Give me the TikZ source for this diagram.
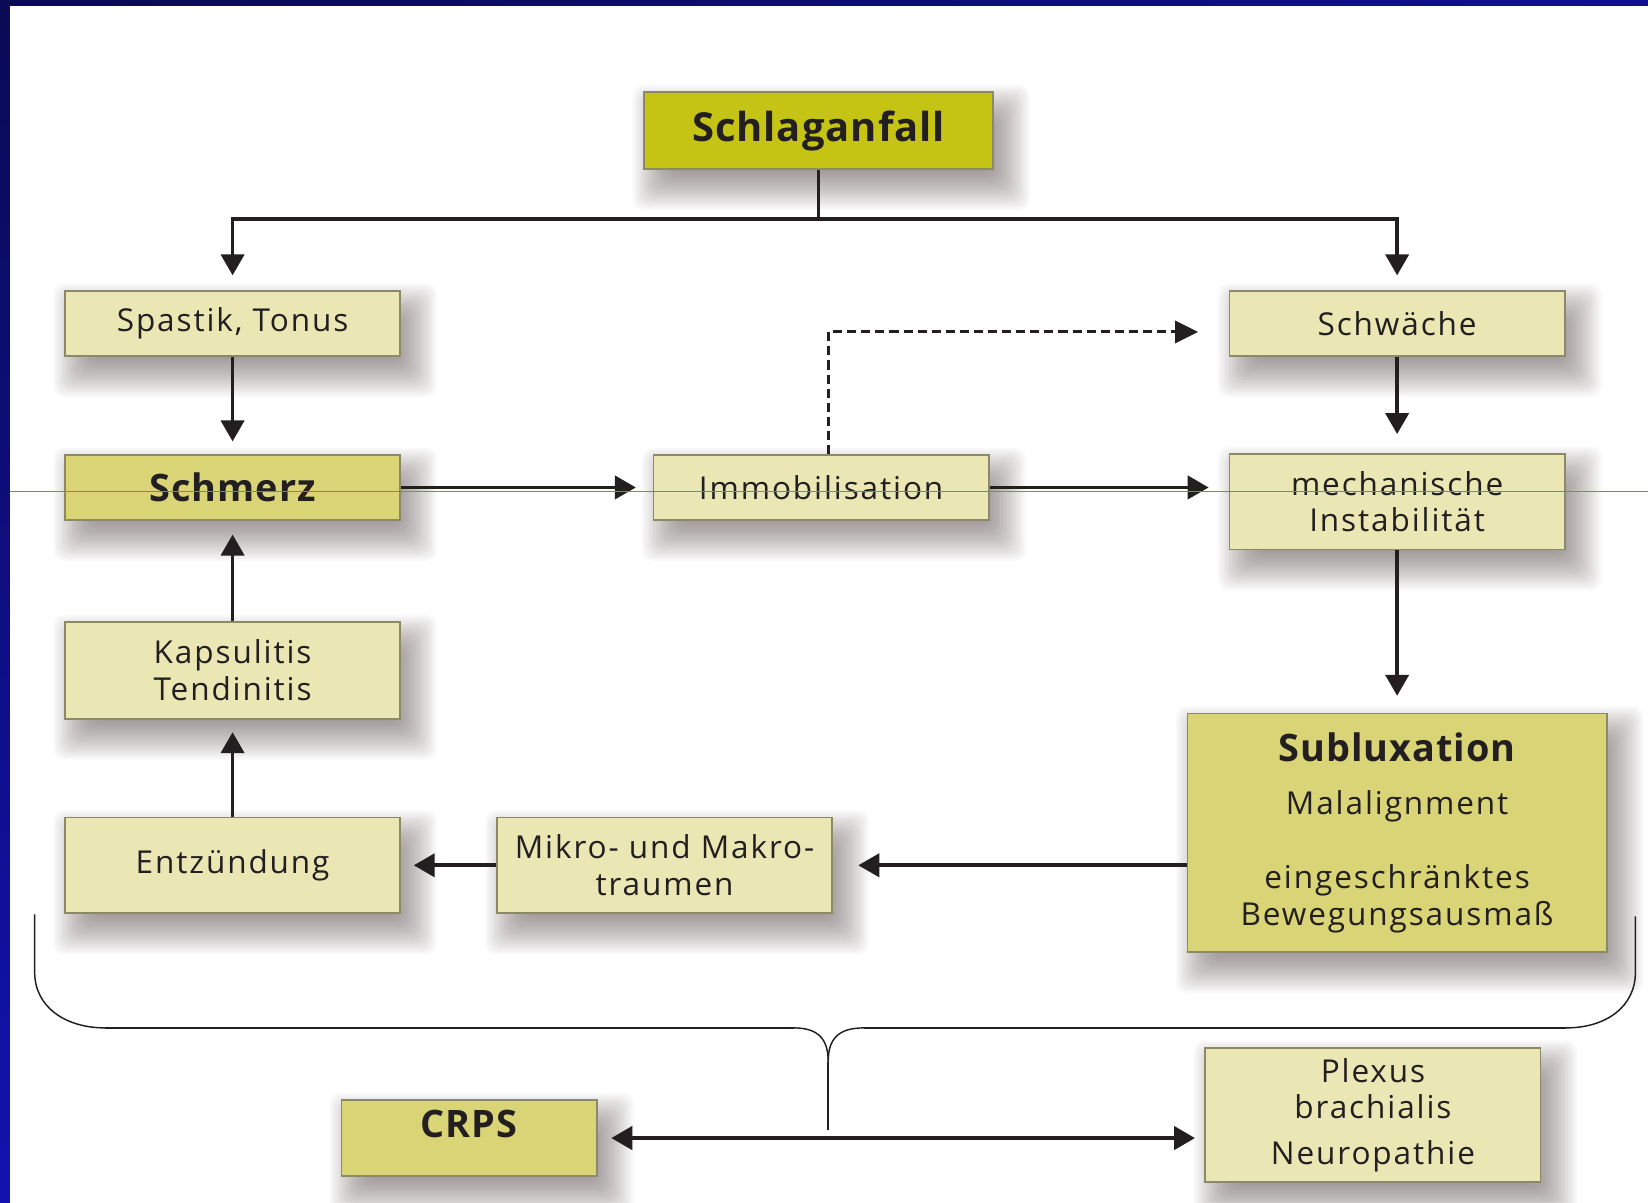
\documentclass[tikz,border=0pt]{standalone}
\usepackage{fontspec}
\setmainfont{Open Sans}[LetterSpace=6]
\usetikzlibrary{arrows.meta,calc}
\definecolor{dark}{HTML}{231F20}
\definecolor{olivefill}{HTML}{C5C313}
\definecolor{medfill}{HTML}{D9D475}
\definecolor{lightfill}{HTML}{EAE7B5}
\definecolor{edgecol}{HTML}{8C8A66}
\definecolor{navyA}{HTML}{0A0A55}
\definecolor{navyB}{HTML}{1212B0}
\definecolor{guide}{HTML}{7878D0}
\definecolor{shadowcol}{HTML}{3A2A2A}
\newfontfamily\boldfam{Open Sans}[LetterSpace=2.5]
\newcommand{\hdrfont}{\boldfam\fontsize{18}{22}\selectfont\bfseries}
\pgfdeclarelayer{bglayer}
\pgfdeclarelayer{shadowlayer}
\pgfsetlayers{bglayer,shadowlayer,main}
\begin{document}
\begin{tikzpicture}[x=0.5pt,y=-0.5pt,
  box/.style={draw=edgecol, line width=0.8pt, anchor=north west, inner sep=0pt,
    align=center, text=dark, font=\fontsize{15}{17.5}\selectfont,
    minimum width=159.5pt},
  lightbox/.style={box, fill=lightfill},
  medbox/.style={box, fill=medfill},
  shadowlayerstyle/.style={fill=shadowcol, opacity=0.03, rounded corners=5pt},
  conn/.style={draw=dark, line width=1.8pt, -{Triangle[length=10pt,width=11pt]}},
  dashconn/.style={draw=dark, line width=1.4pt, dash pattern=on 4.3pt off 2.4pt, -{Triangle[length=11pt,width=10.5pt]}},
  dblconn/.style={draw=dark, line width=2pt, {Triangle[length=10pt,width=11pt]}-{Triangle[length=10pt,width=11pt]}},
  plain/.style={draw=dark, line width=1.8pt},
  bracethin/.style={draw=dark, line width=0.7pt},
  bracethick/.style={draw=dark, line width=1.3pt}
]
\useasboundingbox (0,0) rectangle (1568,1144);
\begin{pgfonlayer}{bglayer}
\fill[white] (0,0) rectangle (1568,1144);
\shade[top color=navyA, bottom color=navyB] (0,0) rectangle (9.5,1144);
\shade[left color=navyA, right color=navyB!85!black] (0,0) rectangle (1568,5);
\end{pgfonlayer}

% boxes
\node[box, fill=olivefill, minimum width=166pt, minimum height=36.5pt] (schlag) at (612,87)
  {\boldfam\fontsize{19}{22}\selectfont\bfseries Schlaganfall};
\node[lightbox, minimum height=31pt] (spastik) at (61,276) {Spastik, Tonus};
\node[lightbox, minimum height=31pt] (schwaeche) at (1169,276) {Schwäche};
\node[medbox, minimum height=31pt] (schmerz) at (61,432) {\hdrfont Schmerz};
\node[lightbox, minimum height=31pt] (immob) at (621,432) {Immobilisation};
\node[lightbox, minimum height=45.5pt] (mech) at (1169,431) {mechanische\\Instabilität};
\node[lightbox, minimum height=46pt] (kaps) at (61,591) {Kapsulitis\\Tendinitis};
\node[medbox, minimum width=199.5pt, minimum height=113.5pt] (sublux) at (1129,678)
  {{\hdrfont Subluxation}\\[8pt]Malalignment\\[17.5pt]eingeschränktes\\Bewegungsausmaß};
\node[lightbox, minimum height=45.5pt] (entz) at (61,777) {Entzündung};
\node[lightbox, minimum height=45.5pt] (mikro) at (472,777) {Mikro- und Makro-\\traumen};
\node[medbox, minimum width=121.5pt, minimum height=36pt] (crps) at (324,1046)
  {\raisebox{14pt}{\hdrfont CRPS}};
\node[lightbox, minimum height=64pt] (plexus) at (1146,996)
  {Plexus\\brachialis\\[4pt]Neuropathie};

% soft shadows
\begin{pgfonlayer}{shadowlayer}
\foreach \n in {schlag,spastik,schwaeche,schmerz,immob,mech,kaps,sublux,entz,mikro,crps,plexus} {
  \foreach \k [evaluate=\k as \e using 22*(1-2*\k/20)] in {0,...,19} {
    \fill[shadowlayerstyle] ($(\n.north west)+(12-\e,16-\e)$) rectangle ($(\n.south east)+(12+\e,16+\e)$);
  }
}
\end{pgfonlayer}

% connectors
\coordinate (bar) at ($(schlag.south)+(0,47)$);
\draw[plain] (schlag.south) -- (bar);
\draw[conn, shorten >=7pt] (bar) -| (spastik.north);
\draw[conn, shorten >=7pt] (bar) -| (schwaeche.north);
\draw[conn, shorten >=6pt] (spastik.south) -- (schmerz.north);
\draw[conn, shorten >=9pt] (schwaeche.south) -- (mech.north);
\draw[conn, shorten >=8pt] (schmerz.east) -- (immob.west);
\draw[conn, shorten >=9.5pt] (immob.east) -- (immob.east -| mech.west);
\draw[dashconn, shorten >=14.5pt] ($(immob.north)+(7,0)$) |- ($(schwaeche.west)+(0,8)$);
\draw[conn, shorten >=8pt] (mech.south) -- (sublux.north);
\draw[conn, shorten >=12pt] (sublux.west |- mikro.east) -- (mikro.east);
\draw[conn, shorten >=6pt] (mikro.west) -- (entz.east);
\draw[conn, shorten >=6pt] (entz.north) -- (kaps.south);
\draw[conn, shorten >=6.5pt] (kaps.north) -- (schmerz.south);

% brace
\draw[bracethin] (33,870) -- (33,925) .. controls (33,958) and (62,978) .. (100,978);
\draw[bracethick] (100,978) -- (755,978);
\draw[bracethin] (755,978) .. controls (778,978) and (788,988) .. (788,1010);
\draw[bracethick] (822,978) -- (1490,978);
\draw[bracethin] (822,978) .. controls (798,978) and (788,988) .. (788,1010);
\draw[bracethin] (1490,978) .. controls (1528,978) and (1556,958) .. (1556,925) -- (1556,872);
\coordinate (stemtop) at (788,1010);
\coordinate (stembot) at (788,1075);
\draw[draw=dark, line width=0.8pt] (stemtop) -- (stembot);
\draw[dblconn, shorten <=6.5pt, shorten >=4.5pt] (crps.east) -- (crps.east -| plexus.west);

% thin guide line
\coordinate (gl) at (9.5,468);
\coordinate (gr) at (1568,468);
\draw[guide, line width=0.5pt] (gl) -- (gr);
\end{tikzpicture}
\end{document}
